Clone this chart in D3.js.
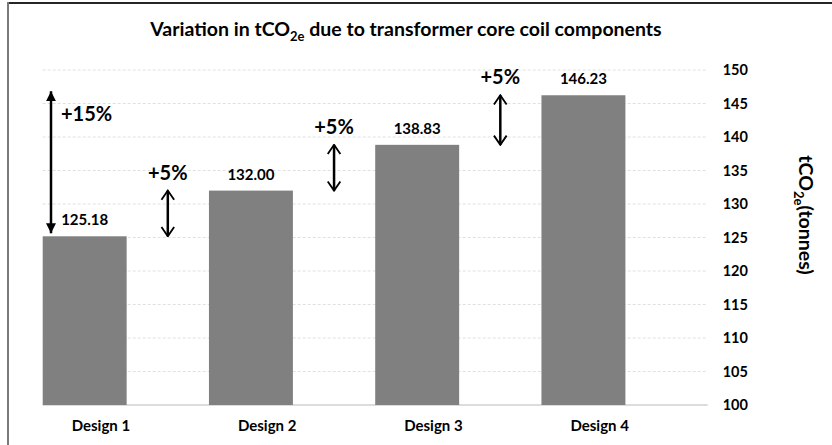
<!DOCTYPE html>
<html>
<head>
<meta charset="utf-8">
<script src="https://cdn.jsdelivr.net/npm/d3@7"></script>
<style>
  body { margin: 0; background: #fff; }
  svg { display: block; }
  text { font-family: Lato, "Open Sans", sans-serif; font-weight: bold; fill: #000; }
</style>
</head>
<body>
<div id="chart"></div>
<script>
// chart data
var designs = ["Design 1", "Design 2", "Design 3", "Design 4"];
var emissions = [125.18, 132.00, 138.83, 146.23];
var yTicks = [100, 105, 110, 115, 120, 125, 130, 135, 140, 145, 150];
// annotation arrows: from one design's value to another's
var arrowFrom = [0, 0, 1, 2];
var arrowTo = [3, 1, 2, 3];
var arrowLabels = ["+15%", "+5%", "+5%", "+5%"];

var width = 832, height = 445;
var margin = {left: 42.7, right: 124.3, top: 70, bottom: 40};

var svg = d3.select("#chart").append("svg")
    .attr("width", width)
    .attr("height", height);

// frame lines (top + left)
svg.append("rect").attr("x", 7).attr("y", 2).attr("width", width - 7).attr("height", 2)
    .style("fill", "#262626");
svg.append("rect").attr("x", 7).attr("y", 2).attr("width", 2).attr("height", height)
    .style("fill", "#7a7a7a");

var x = d3.scaleBand()
    .domain(designs)
    .range([margin.left, width - margin.right])
    .padding(0);
var y = d3.scaleLinear()
    .domain([100, 150])
    .range([height - margin.bottom, margin.top]);

var bw = x.bandwidth();
var barW = bw * 0.505;

// title
var title = svg.append("text")
    .attr("x", 406).attr("y", 36)
    .attr("text-anchor", "middle")
    .style("font-size", "19.5px");
title.append("tspan").text("Variation in tCO");
title.append("tspan").attr("dy", 5).style("font-size", "13px").text("2e");
title.append("tspan").attr("dy", -5).text(" due to transformer core coil components");

// gridlines
svg.append("g").selectAll("line")
    .data(yTicks)
    .enter().append("line")
    .attr("x1", margin.left).attr("x2", width - margin.right)
    .attr("y1", d => y(d)).attr("y2", d => y(d))
    .style("stroke", d => d == 100 ? "#d0d0d0" : "#e0e0e0")
    .style("stroke-width", d => d == 100 ? 1.5 : 1)
    .style("stroke-dasharray", d => d == 100 ? null : "3,2");

// right axis labels
var yAxis = d3.axisRight(y).tickValues(yTicks).tickSize(0).tickPadding(15);
var gy = svg.append("g")
    .attr("transform", "translate(" + (width - margin.right) + ",0)")
    .call(yAxis);
gy.select(".domain").remove();
gy.selectAll("text")
    .style("font-size", "14.5px")
    .style("font-family", "Lato, sans-serif")
    .style("font-weight", "bold")
    .attr("fill", "#000");

// axis title
var yt = svg.append("text")
    .attr("transform", "translate(799,215) rotate(90)")
    .attr("text-anchor", "middle")
    .style("font-size", "19.5px");
yt.append("tspan").text("tCO");
yt.append("tspan").attr("dy", 5).style("font-size", "13px").text("2e");
yt.append("tspan").attr("dy", -5).text("(tonnes)");

// bars
svg.append("g").selectAll("rect")
    .data(emissions)
    .enter().append("rect")
    .attr("x", (d, i) => x(designs[i]))
    .attr("width", barW)
    .attr("y", d => y(d))
    .attr("height", d => y(100) - y(d))
    .style("fill", "#808080");

// value labels
svg.append("g").selectAll("text")
    .data(emissions)
    .enter().append("text")
    .attr("x", (d, i) => x(designs[i]) + barW / 2)
    .attr("y", d => y(d) - 11)
    .attr("text-anchor", "middle")
    .style("font-size", "15px")
    .text(d => d.toFixed(2));

// category labels
svg.append("g").selectAll("text")
    .data(designs)
    .enter().append("text")
    .attr("x", d => x(d) + bw * 0.35)
    .attr("y", 431)
    .attr("text-anchor", "middle")
    .style("font-size", "15px")
    .text(d => d);

// arrowheads
var defs = svg.append("defs");
defs.append("marker")
    .attr("id", "solid").attr("viewBox", "0 0 10 10")
    .attr("refX", 10).attr("refY", 5)
    .attr("markerWidth", 4).attr("markerHeight", 4)
    .attr("markerUnits", "strokeWidth")
    .attr("orient", "auto-start-reverse")
    .append("path").attr("d", "M0,0L10,5L0,10Z").style("fill", "#000");
defs.append("marker")
    .attr("id", "open").attr("viewBox", "0 0 10 13")
    .attr("refX", 9).attr("refY", 6.5)
    .attr("markerWidth", 4.6).attr("markerHeight", 6)
    .attr("markerUnits", "strokeWidth")
    .attr("orient", "auto-start-reverse")
    .append("path").attr("d", "M1,1L9,6.5L1,12")
    .style("fill", "none").style("stroke", "#000").style("stroke-width", 1.6);

function arrowX(i) {
    // first arrow sits at the left of design 1, others in the gaps between bars
    if (i == 0) return x(designs[0]) + 8.3;
    var b = arrowFrom[i];
    return x(designs[b]) + barW + (bw - barW) / 2;
}

var arrows = svg.append("g");
arrowLabels.forEach((lab, i) => {
    var ax = arrowX(i);
    var yTop = y(emissions[arrowTo[i]]);
    var yBot = y(emissions[arrowFrom[i]]);
    if (i == 0) { yTop -= 4; yBot -= 3; }
    arrows.append("line")
        .attr("x1", ax).attr("x2", ax)
        .attr("y1", yBot).attr("y2", yTop)
        .style("stroke", "#000")
        .style("stroke-width", 2.5)
        .attr("marker-start", i == 0 ? "url(#solid)" : "url(#open)")
        .attr("marker-end", i == 0 ? "url(#solid)" : "url(#open)");
    arrows.append("text")
        .attr("x", i == 0 ? ax + 10 : ax)
        .attr("y", i == 0 ? yTop + 30 : yTop - 11)
        .attr("text-anchor", i == 0 ? "start" : "middle")
        .style("font-size", "20px")
        .text(lab);
});
</script>
</body>
</html>
